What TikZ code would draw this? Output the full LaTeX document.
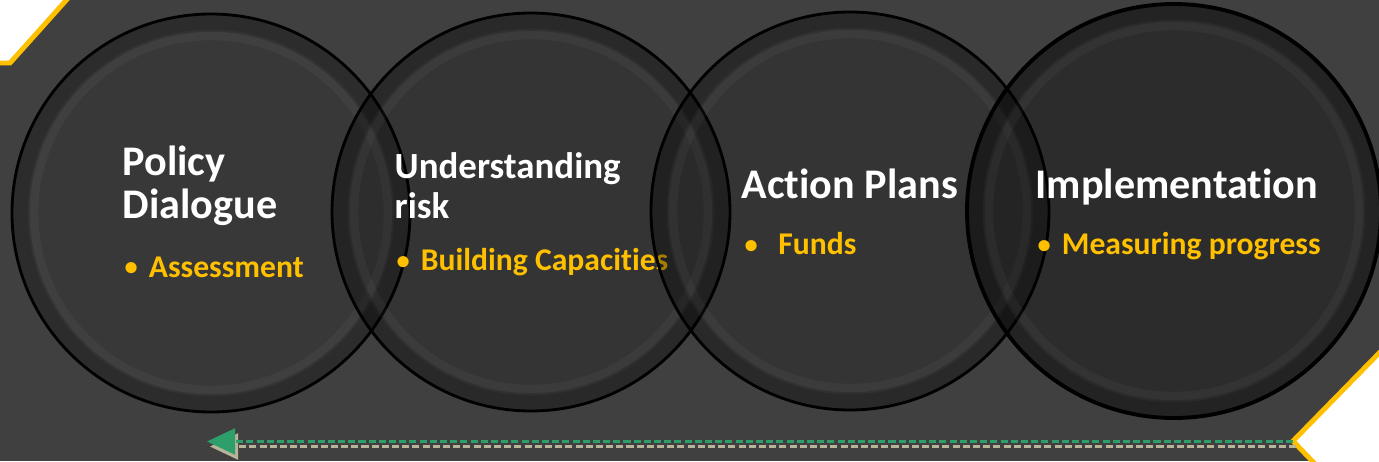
\documentclass[tikz,border=0pt]{standalone}
\usepackage{fontspec}
\setmainfont[Ligatures=NoCommon]{Carlito}
\usetikzlibrary{arrows.meta}
\definecolor{sfondo}{HTML}{404040}
\definecolor{giallo}{HTML}{FFC000}
\definecolor{verde}{HTML}{2E9E6A}
\definecolor{sabbia}{HTML}{B8B49A}
\newcommand{\pallino}{\raisebox{0.4pt}{\fontsize{7.5}{7.5}\selectfont •}}
\begin{document}
\begin{tikzpicture}[
    cerchio/.style={fill=black, fill opacity=#1, draw=black, line width=0.8pt},
    alone/.style={draw=black, draw opacity=0.2, line width=5pt},
    riflesso/.style={draw=white, draw opacity=0.035, line width=3pt},
    titolo/.style={anchor=north west, inner sep=0pt, align=left, text=white,
        font=\fontsize{12}{12.2}\selectfont\bfseries},
    punto/.style={anchor=north west, inner sep=0pt, text=giallo,
        font=\fontsize{9}{10}\selectfont\bfseries},
    angolo/.style={draw=giallo, line width=1.4pt, line join=miter},
    freccia/.style={dashed, dash pattern=on 2pt off 0.9pt, line width=0.6pt,
        -{Triangle[length=0.28cm, width=0.26cm]}}
]
    %sfondo
    \fill[sfondo] (0, 0) rectangle (13.79, 4.61);
    \useasboundingbox (0, 0) rectangle (13.79, 4.61);
    %angoli
    \fill[white] (0, 4.61) -- (0.68, 4.61) -- (0.10, 3.98) -- (0, 3.98) -- cycle;
    \draw[angolo] (0.70, 4.65) -- (0.10, 3.98) -- (-0.05, 3.98);
    \fill[white] (13.79, 1.08) -- (12.93, 0.20) -- (13.13, 0) -- (13.79, 0) -- cycle;
    \draw[angolo] (13.85, 1.14) -- (12.93, 0.20) -- (13.15, -0.03);
    %freccia
    \coordinate (coda) at (12.93, 0.195);
    \coordinate (punta) at (2.07, 0.195);
    \draw[freccia, sabbia] ([shift={(0.03, -0.05)}]coda) -- ([shift={(0.03, -0.05)}]punta);
    \draw[freccia, verde] (coda) -- (punta);
    %cerchio 1
    \draw[cerchio=0.12] (2.11, 2.48) circle (1.99);
    \draw[alone] (2.11, 2.48) circle (1.90);
    \draw[riflesso] (2.11, 2.48) circle (1.78);
    \node[titolo] (policy) at (1.22, 3.16) {Policy\\Dialogue};
    \node[punto] (assessment) at (1.24, 2.05) {\pallino\hspace{0.35em}Assessment};
    %cerchio 2
    \draw[cerchio=0.18] (5.31, 2.49) circle (1.99);
    \draw[alone] (5.31, 2.49) circle (1.90);
    \draw[riflesso] (5.31, 2.49) circle (1.78);
    \node[titolo, font=\fontsize{10.5}{11.4}\selectfont\bfseries] (understanding) at (3.94, 3.09) {Understanding\\risk};
    \node[punto] (building) at (3.96, 2.13) {\pallino\hspace{0.35em}Building Capacities};
    %cerchio 3
    \draw[cerchio=0.18] (8.50, 2.50) circle (1.99);
    \draw[alone] (8.50, 2.50) circle (1.90);
    \draw[riflesso] (8.50, 2.50) circle (1.78);
    \node[titolo] (action) at (7.41, 2.93) {Action Plans};
    \node[punto] (funds) at (7.44, 2.29) {\pallino\hspace{0.65em}Funds};
    %cerchio 4
    \draw[cerchio=0.3, line width=1.1pt] (11.74, 2.50) circle (2.07);
    \draw[alone] (11.74, 2.50) circle (1.98);
    \draw[riflesso] (11.74, 2.50) circle (1.86);
    \node[titolo] (implementation) at (10.35, 2.93) {Implementation};
    \node[punto] (measuring) at (10.37, 2.29) {\pallino\hspace{0.35em}Measuring progress};
\end{tikzpicture}
\end{document}
